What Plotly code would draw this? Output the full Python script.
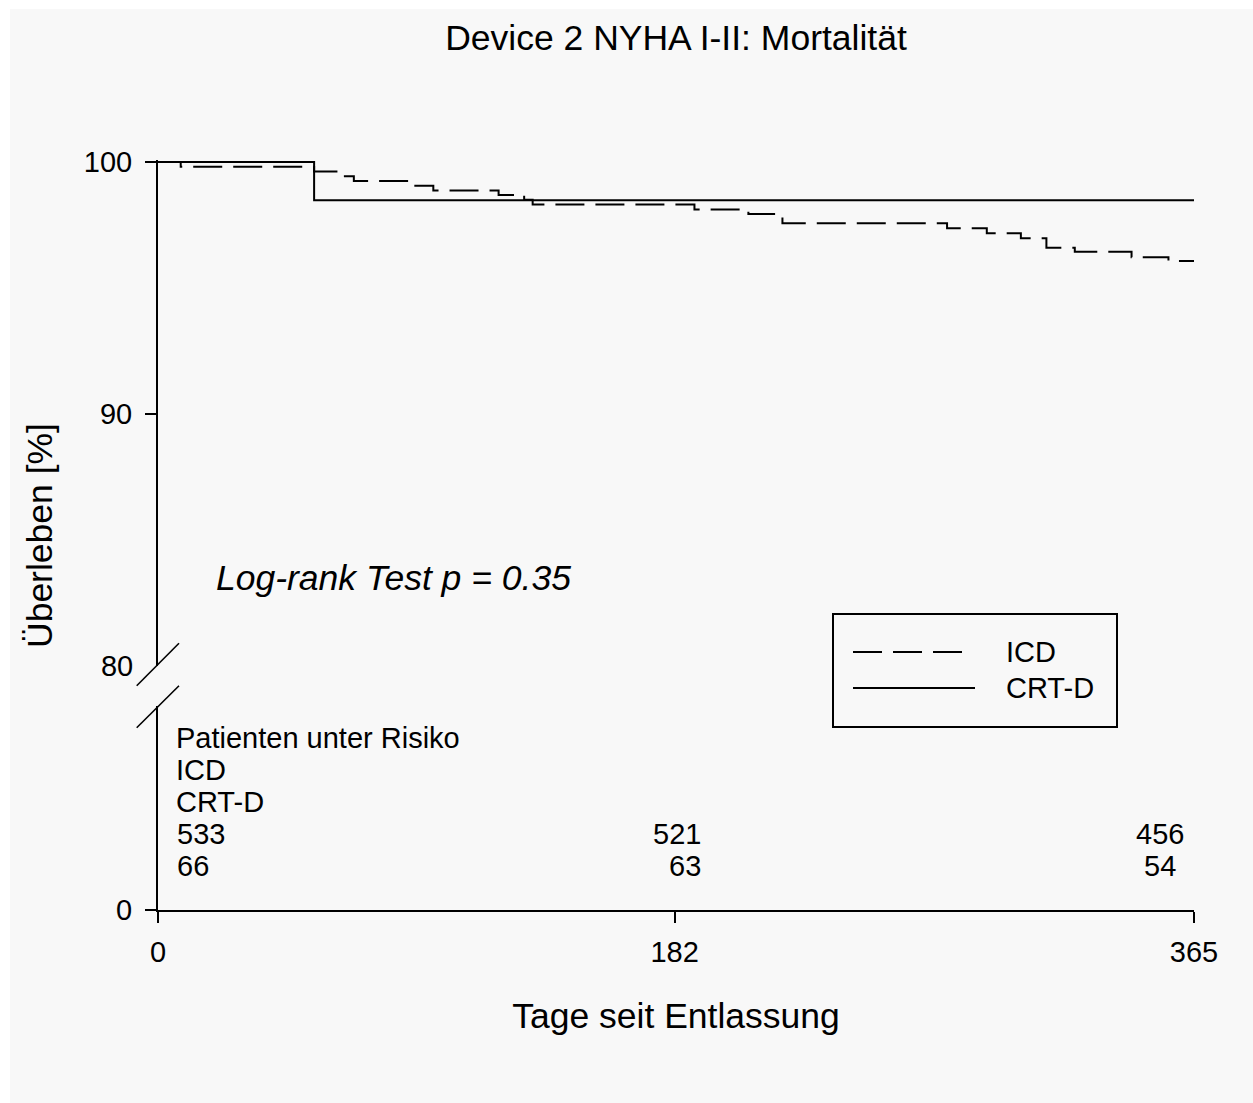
import plotly.graph_objects as go

# ---------------- data ----------------
icd_days = [0, 8, 55, 64, 69, 89, 97, 120, 129, 132, 189, 208, 220, 278, 292, 304, 313, 323, 343, 356, 365]
icd_surv = [100, 99.81, 99.62, 99.44, 99.25, 99.06, 98.87, 98.69, 98.50, 98.31, 98.12, 97.94, 97.57,
            97.37, 97.17, 96.97, 96.60, 96.44, 96.22, 96.07, 96.07]
crt_days = [0, 55, 365]
crt_surv = [100, 98.48, 98.48]

x_ticks = [0, 182, 365]
y_ticks_upper = [90, 100]
y_tick_break = [80]
y_ticks_lower = [0]

risk_days = [0, 182, 365]
risk_icd = [533, 521, 456]
risk_crt = [66, 63, 54]
risk_header = ["Patienten unter Risiko", "ICD", "CRT-D"]

series_names = ["ICD", "CRT-D"]
title_text = "Device 2 NYHA I-II: Mortalität"
x_title = "Tage seit Entlassung"
y_title = "Überleben [%]"
pvalue_text = "Log-rank Test p = 0.35"

# ---------------- layout geometry (pixels) ----------------
W, H = 1253, 1103
L, R, T, B = 158, 59, 160, 193
PW = W - L - R
PH = H - T - B
FONT = "Arial, Liberation Sans, sans-serif"
BLACK = "#000000"
DASH = "29px,11px"
SMALL = 29
BIG = 35.5


def px_x(p):
    return (p - L) / PW


def px_y(p):
    return (H - B - p) / PH


upper_dom = [px_y(666), 1.0]
lower_dom = [0.0, px_y(706)]

fig = go.Figure()

fig.add_trace(go.Scatter(x=icd_days, y=icd_surv, name=series_names[0], mode="lines",
                         line=dict(shape="hv", color=BLACK, width=2, dash=DASH),
                         yaxis="y2", showlegend=False, hoverinfo="x+y"))
fig.add_trace(go.Scatter(x=crt_days, y=crt_surv, name=series_names[1], mode="lines",
                         line=dict(shape="hv", color=BLACK, width=2),
                         yaxis="y2", showlegend=False, hoverinfo="x+y"))
# keep lower and overlay axes alive
fig.add_trace(go.Scatter(x=[0], y=[0], mode="markers", marker=dict(opacity=0),
                         yaxis="y", showlegend=False, hoverinfo="skip"))
fig.add_trace(go.Scatter(x=[0], y=[90], mode="markers", marker=dict(opacity=0),
                         yaxis="y3", showlegend=False, hoverinfo="skip"))

tickfont = dict(size=SMALL, color=BLACK, family=FONT)
axis_common = dict(showline=True, linecolor=BLACK, linewidth=2, ticks="outside", ticklen=11,
                   tickwidth=2, tickcolor=BLACK, showgrid=False, zeroline=False,
                   tickfont=tickfont, automargin=False, fixedrange=True)

shapes = []
# background panel
shapes.append(dict(type="rect", xref="paper", yref="paper", layer="below",
                   x0=px_x(10), x1=px_x(W + 5), y0=px_y(H + 5), y1=px_y(9),
                   fillcolor="#f8f8f8", line=dict(width=0)))
# axis break marks
for (xa, ya, xb, yb) in [(136.7, 685.7, 179, 643.3), (136.7, 727.7, 179, 685.7)]:
    shapes.append(dict(type="line", xref="paper", yref="paper",
                       x0=px_x(xa), y0=px_y(ya), x1=px_x(xb), y1=px_y(yb),
                       line=dict(color=BLACK, width=1.6)))
# legend box and samples
shapes.append(dict(type="rect", xref="paper", yref="paper",
                   x0=px_x(833), x1=px_x(1117), y0=px_y(727), y1=px_y(614),
                   line=dict(color=BLACK, width=2), fillcolor="rgba(0,0,0,0)"))
shapes.append(dict(type="line", xref="paper", yref="paper",
                   x0=px_x(853), x1=px_x(964), y0=px_y(652), y1=px_y(652),
                   line=dict(color=BLACK, width=2, dash=DASH)))
shapes.append(dict(type="line", xref="paper", yref="paper",
                   x0=px_x(853), x1=px_x(975), y0=px_y(688), y1=px_y(688),
                   line=dict(color=BLACK, width=2)))

ann = []
small = dict(size=SMALL, color=BLACK, family=FONT)
big = dict(size=BIG, color=BLACK, family=FONT)
# legend text
for name, yp in zip(series_names, [652, 688]):
    ann.append(dict(text=name, xref="paper", yref="paper", x=px_x(1004), y=px_y(yp),
                    xanchor="left", yanchor="middle", showarrow=False, font=small))
# p-value
ann.append(dict(text="<i>" + pvalue_text + "</i>", xref="paper", yref="paper",
                x=px_x(214), y=px_y(578), xanchor="left", yanchor="middle",
                showarrow=False, font=big))
# y title
ann.append(dict(text=y_title, xref="paper", yref="paper", x=px_x(40), y=px_y(536),
                xanchor="center", yanchor="middle", textangle=-90, showarrow=False, font=big))
# risk table header
for txt, yp in zip(risk_header, [738, 770, 802]):
    ann.append(dict(text=txt, xref="paper", yref="paper", x=px_x(174), y=px_y(yp),
                    xanchor="left", yanchor="middle", showarrow=False, font=small))
# risk numbers
risk_x = [6.0, 192.0, 353.0]
risk_anchor = ["left", "right", "center"]
for i in range(len(risk_days)):
    for vals, yp in [(risk_icd, 834), (risk_crt, 866)]:
        ann.append(dict(text=str(vals[i]), xref="x", yref="paper", x=risk_x[i], y=px_y(yp),
                        xanchor=risk_anchor[i], yanchor="middle", showarrow=False, font=small))

fig.update_layout(
    width=W, height=H,
    margin=dict(l=L, r=R, t=T, b=B, autoexpand=False),
    paper_bgcolor="#ffffff", plot_bgcolor="rgba(0,0,0,0)",
    font=dict(family=FONT, color=BLACK),
    title=dict(text=title_text, x=0.5, xref="paper", xanchor="center",
               y=1 - 38 / H, yref="container", yanchor="middle", font=big),
    xaxis=dict(domain=[0, 1], range=[0, 365], tickvals=x_ticks, ticktext=[str(v) for v in x_ticks],
               anchor="y", ticklabelstandoff=4,
               title=dict(text=x_title, font=big, standoff=36), **axis_common),
    yaxis=dict(domain=lower_dom, range=[0, 1], tickvals=y_ticks_lower,
               ticktext=[str(v) for v in y_ticks_lower], anchor="x", ticklabelstandoff=7,
               **axis_common),
    yaxis2=dict(domain=upper_dom, range=[80, 100.08], tickvals=y_ticks_upper,
                ticktext=[str(v) for v in y_ticks_upper], anchor="x", ticklabelstandoff=7,
                **axis_common),
    yaxis3=dict(overlaying="y2", range=[80, 100.08], tickvals=y_tick_break,
                ticktext=[str(v) for v in y_tick_break], anchor="x", ticklabelstandoff=7,
                showline=False, ticks="outside", ticklen=11, tickwidth=2,
                tickcolor="rgba(0,0,0,0)", showgrid=False, zeroline=False,
                tickfont=tickfont, fixedrange=True),
    shapes=shapes,
    annotations=ann,
    showlegend=False,
)

fig.write_html("out.html")
